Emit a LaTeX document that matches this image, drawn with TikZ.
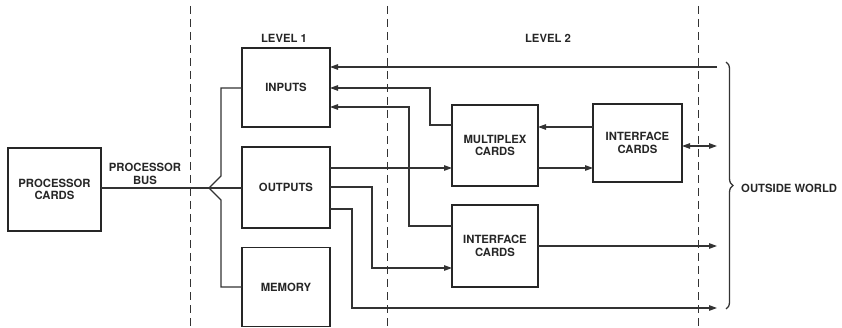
\documentclass[tikz,border=0pt]{standalone}
\usepackage{fontspec}
\setmainfont{TeX Gyre Heros}
\usetikzlibrary{arrows.meta,decorations.pathreplacing}
\begin{document}
\begin{tikzpicture}[x=1pt,y=-1pt,
  lbl/.style={font=\fontsize{11.3}{12.5}\selectfont\bfseries, text=black!85, align=center, inner sep=0pt},
  blk/.style={draw=black!85, line width=1.6pt, inner sep=0pt, outer sep=0pt, lbl},
  conn/.style={draw=black!80, line width=1.2pt},
  arr/.style={conn, -{Triangle[length=8pt,width=5.5pt]}},
  darr/.style={conn, {Triangle[length=8pt,width=5.5pt]}-{Triangle[length=8pt,width=5.5pt]}},
  sep/.style={draw=black!80, line width=0.9pt, dash pattern=on 8pt off 5pt}]
\useasboundingbox (0,0) rectangle (842,328);
% separators
\draw[sep] (190,6) -- (190,328);
\draw[sep] (387,6) -- (387,328);
\draw[sep] (698,6) -- (698,328);
% blocks
\node[blk, minimum width=93pt, minimum height=83pt] (proc) at (54.5,189.5) {PROCESSOR\\CARDS};
\node[blk, minimum width=88pt, minimum height=79pt] (inputs) at (286,87.5) {INPUTS};
\node[blk, minimum width=88pt, minimum height=81pt] (outputs) at (286,187.5) {OUTPUTS};
\node[blk, minimum width=88pt, minimum height=79pt] (memory) at (286,287) {MEMORY};
\node[blk, minimum width=86pt, minimum height=81pt] (mux) at (495,145.5) {MULTIPLEX\\CARDS};
\node[blk, minimum width=89pt, minimum height=78pt] (ifa) at (637.5,143) {INTERFACE\\CARDS};
\node[blk, minimum width=86pt, minimum height=82pt] (ifb) at (495,246) {INTERFACE\\CARDS};
% labels
\node[lbl] (lv1) at (284,38) {LEVEL 1};
\node[lbl] (lv2) at (548,38) {LEVEL 2};
\node[lbl] (pbus) at (145,174) {PROCESSOR\\BUS};
\node[lbl, anchor=west] (ow) at (741,188) {OUTSIDE WORLD};
% outside world ends
\coordinate (owa) at (717,67);
\coordinate (owb) at (717,146);
\coordinate (owc) at (717,246);
\coordinate (owd) at (717,308);
\coordinate (tip) at (209,188);
% processor bus and fan-out
\draw[conn] (proc.east |- tip) -- (tip) -- (outputs.west |- tip);
\draw[conn] (inputs.west |- 0,88) -- (221,88) -- (221,176) -- (tip) -- (221,200) -- (221,287) -- (memory.west |- 0,287);
% connectors
\draw[arr] (owa) -- (inputs.east |- owa);
\draw[arr] (mux.west |- 0,125) -| (430,88) -- (inputs.east |- 0,88);
\draw[arr] (ifb.west |- 0,226) -| (409,107) -- (inputs.east |- 0,107);
\draw[arr] (outputs.east |- 0,168) -- (mux.west |- 0,168);
\draw[arr] (outputs.east |- 0,187) -| (372,268) -- (ifb.west |- 0,268);
\draw[arr] (outputs.east |- 0,209) -| (352,308) -- (owd);
\draw[arr] (ifa.west |- 0,127) -- (mux.east |- 0,127);
\draw[arr] (mux.east |- 0,168) -- (ifa.west |- 0,168);
\draw[darr] (ifa.east |- owb) -- (owb);
\draw[arr] (ifb.east |- owc) -- (owc);
% brace
\draw[draw=black!80, line width=1.3pt, decorate, decoration={brace, amplitude=7pt}] (726,62) -- (726,309);
\end{tikzpicture}
\end{document}
